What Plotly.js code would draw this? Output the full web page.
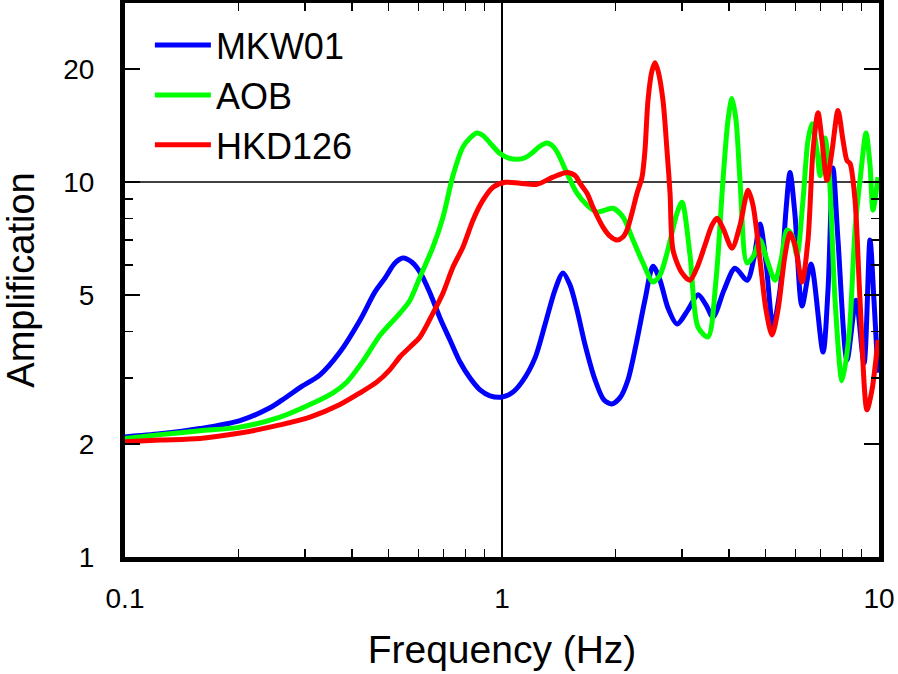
<!DOCTYPE html>
<html>
<head>
<meta charset="utf-8">
<script src="https://cdn.plot.ly/plotly-3.0.1.min.js"></script>
<style>html,body{margin:0;padding:0;background:#fff;}#chart{width:898px;height:674px;}</style>
</head>
<body>
<div id="chart"></div>
<script>
// Frequency (Hz) and amplification values
const mkwFreq = [0.1,0.1239,0.1581,0.2018,0.2424,0.2608,0.2911,0.329,0.3717,0.4201,0.4603,0.4893,0.5201,0.5463,0.5771,0.606,0.6442,0.6846,0.7278,0.7738,0.8226,0.8743,0.9294,1.0,1.063,1.13,1.223,1.3,1.382,1.451,1.515,1.581,1.661,1.765,1.865,1.957,2.056,2.159,2.267,2.394,2.515,2.625,2.756,2.912,3.114,3.311,3.476,3.628,3.881,4.15,4.467,4.66,4.835,5.015,5.234,5.463,5.667,5.807,5.987,6.249,6.601,7.104,7.324,7.551,7.785,8.225,8.69,9.125,9.465,9.698,9.938];
const mkwAmp = [2.09,2.13,2.2,2.31,2.5,2.62,2.83,3.06,3.52,4.28,5.09,5.54,6.08,6.27,6.11,5.75,5.06,4.34,3.79,3.31,3.0,2.79,2.69,2.67,2.74,2.93,3.39,4.16,5.15,5.72,5.31,4.56,3.68,2.97,2.62,2.56,2.66,2.97,3.68,4.84,5.96,5.47,4.61,4.18,4.56,5.0,4.7,4.36,5.15,5.89,5.47,6.27,7.72,6.11,4.13,5.15,8.42,10.6,8.16,4.67,6.04,3.52,5.15,10.9,7.0,3.35,4.84,3.29,7.0,4.84,3.1];

const aobFreq = [0.1,0.1239,0.1581,0.2018,0.2577,0.3095,0.3562,0.3879,0.4306,0.4747,0.5363,0.5702,0.606,0.6561,0.6975,0.7413,0.788,0.8226,0.8584,0.8904,0.9294,0.9878,1.037,1.096,1.151,1.208,1.261,1.316,1.365,1.408,1.487,1.581,1.681,1.786,1.876,1.97,2.094,2.226,2.366,2.515,2.625,2.74,2.912,3.002,3.153,3.311,3.519,3.695,3.856,3.976,4.075,4.176,4.279,4.467,4.66,4.835,5.046,5.298,5.497,5.702,5.878,6.06,6.286,6.481,6.642,6.848,6.975,7.192,7.37,7.646,7.98,8.328,8.638,8.961,9.238,9.465,9.64,9.938];
const aobAmp = [2.07,2.12,2.17,2.22,2.36,2.55,2.74,2.93,3.36,3.9,4.47,4.84,5.58,6.71,8.06,10.4,12.4,13.1,13.5,13.3,12.7,11.9,11.6,11.5,11.6,12.0,12.45,12.7,12.45,11.9,10.55,9.33,8.67,8.31,8.41,8.51,8.06,7.0,6.08,5.41,5.65,6.46,8.26,8.83,6.38,4.1,3.86,5.47,10.1,14.6,16.7,14.6,10.1,6.08,6.38,7.0,6.19,5.47,6.19,7.44,7.21,6.38,8.94,12.9,14.3,12.1,10.4,13.1,10.7,4.84,2.95,3.9,7.44,10.7,13.5,11.1,8.41,10.3];

const hkdFreq = [0.1,0.1239,0.1581,0.2018,0.2577,0.3095,0.3717,0.4201,0.466,0.5045,0.5363,0.5702,0.606,0.6561,0.6975,0.7413,0.788,0.8376,0.8904,0.9465,1.019,1.116,1.238,1.365,1.487,1.562,1.61,1.681,1.743,1.853,1.934,2.018,2.094,2.146,2.212,2.281,2.352,2.394,2.439,2.5,2.546,2.593,2.673,2.74,2.791,2.842,3.002,3.153,3.311,3.455,3.606,3.718,3.856,4.075,4.279,4.494,4.632,4.835,5.015,5.203,5.397,5.633,5.807,5.987,6.249,6.481,6.682,6.89,7.06,7.279,7.505,7.785,8.028,8.225,8.379,8.638,8.905,9.294,9.581,9.938];
const hkdAmp = [2.03,2.05,2.07,2.14,2.25,2.36,2.55,2.74,2.93,3.16,3.42,3.63,3.86,4.47,5.06,5.93,6.71,7.91,8.94,9.68,9.98,9.92,9.86,10.3,10.6,10.4,9.92,9.33,8.56,7.58,7.17,7.0,7.13,7.44,8.26,9.33,10.3,12.1,16.5,19.8,20.8,19.8,16.5,12.1,9.33,6.58,5.72,5.47,6.0,6.79,7.67,8.0,7.53,6.66,7.67,9.5,8.67,6.19,4.56,3.91,4.56,6.38,7.3,6.79,5.41,7.0,12.1,15.3,12.9,10.1,12.1,15.5,12.9,11.4,11.2,8.94,4.84,2.47,2.79,3.79];

const seriesNames = ['MKW01', 'AOB', 'HKD126'];
const seriesColors = ['#0000ff', '#00ff00', '#ff0000'];

const xTickVals = [0.1, 1, 10];
const xTickText = ['0.1', '1', '10'];
const xMinorVals = [0.2,0.3,0.4,0.5,0.6,0.7,0.8,0.9,2,3,4,5,6,7,8,9];
const yTickVals = [1, 2, 5, 10, 20];
const yTickText = ['1', '2', '5', '10', '20'];
const yMinorVals = [3,4,6,7,8,9];
const yGridVals = [10];

const FONT = '"Liberation Sans", Arial, Helvetica, sans-serif';

const xs = [mkwFreq, aobFreq, hkdFreq];
const ys = [mkwAmp, aobAmp, hkdAmp];
const traces = seriesNames.map((n, i) => ({
  type: 'scatter', mode: 'lines', name: n,
  x: xs[i], y: ys[i],
  line: {color: seriesColors[i], width: 5, shape: 'spline', smoothing: 0.8}
}));

const gridShapes = yGridVals.map(v => ({
  type: 'line', xref: 'paper', x0: 0, x1: 1, yref: 'y', y0: v, y1: v,
  line: {color: '#000', width: 1.5}, layer: 'below'
}));

const layout = {
  width: 898, height: 674,
  margin: {l: 125, r: 19, t: 3, b: 117},
  paper_bgcolor: '#fff', plot_bgcolor: '#fff',
  font: {family: FONT, color: '#000'},
  showlegend: true,
  legend: {x: 0.033, y: 0.978, xanchor: 'left', yanchor: 'top', bgcolor: 'rgba(0,0,0,0)',
           font: {size: 36, family: FONT, color: '#000'}, itemwidth: 56, tracegroupgap: 0},
  shapes: gridShapes,
  xaxis: {
    type: 'log', range: [-1, 1],
    tickmode: 'array', tickvals: xTickVals, ticktext: xTickText,
    ticks: 'inside', ticklen: 15, tickwidth: 1.3, tickcolor: '#000',
    minor: {tickvals: xMinorVals, ticks: 'inside', ticklen: 8, tickwidth: 1.3, tickcolor: '#000', showgrid: false},
    showline: true, linewidth: 5, linecolor: '#000', mirror: 'allticks',
    showgrid: true, gridcolor: '#000', gridwidth: 1.5, zeroline: false,
    tickfont: {size: 28, family: FONT, color: '#000'}, ticklabelstandoff: 12,
    title: {text: 'Frequency (Hz)', font: {size: 39, family: FONT, color: '#000'}, standoff: 25},
    automargin: false
  },
  yaxis: {
    type: 'log', range: [0, Math.log10(30)],
    tickmode: 'array', tickvals: yTickVals, ticktext: yTickText,
    ticks: 'inside', ticklen: 15, tickwidth: 1.3, tickcolor: '#000',
    minor: {tickvals: yMinorVals, ticks: 'inside', ticklen: 8, tickwidth: 1.3, tickcolor: '#000', showgrid: false},
    showline: true, linewidth: 5, linecolor: '#000', mirror: 'allticks',
    showgrid: false, zeroline: false,
    tickfont: {size: 28, family: FONT, color: '#000'}, ticklabelstandoff: 20,
    title: {text: 'Amplification', font: {size: 38, family: FONT, color: '#000'}, standoff: 22},
    automargin: false
  }
};

Plotly.newPlot('chart', traces, layout, {displayModeBar: false, staticPlot: true});
</script>
</body>
</html>
